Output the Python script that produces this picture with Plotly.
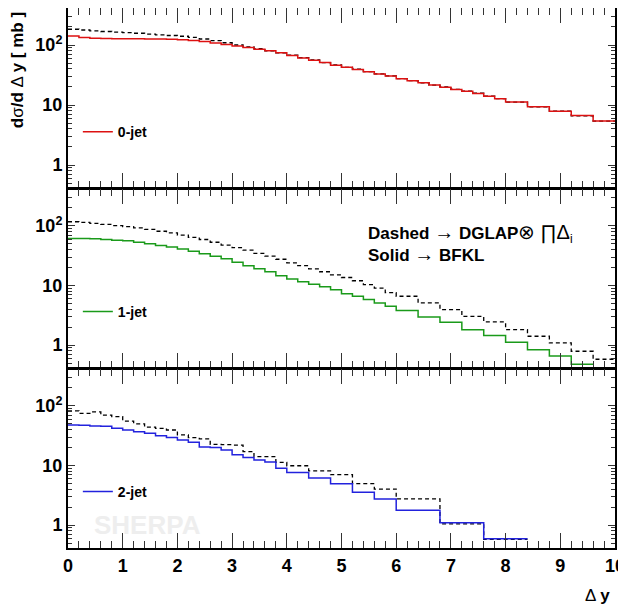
import plotly.graph_objects as go

# ---------------- data ----------------
# bin edges
edges_p1 = [round(0.2 * i, 1) for i in range(41)] + [8.4, 8.8, 9.2, 9.6, 10.0]
edges_p2 = [round(0.2 * i, 1) for i in range(31)] + [6.4, 6.8, 7.2, 7.6, 8.0, 8.4, 8.8, 9.2, 9.6, 10.0]
edges_p2_bfkl = edges_p2[:-1]
edges_p3 = [round(0.2 * i, 1) for i in range(21)] + [4.4, 4.8, 5.2, 5.6, 6.0, 6.8, 7.6, 8.4]

# 0-jet
jet0_bfkl = [141, 134, 130, 128, 127, 127, 127, 126, 126, 125,
             123, 119, 114, 108, 102, 96, 91, 85, 80, 74,
             67, 61, 56, 51, 46, 42.5, 39, 36, 33, 30.4,
             27.5, 25.4, 23.5, 21.5, 19.7, 18.2, 16.9, 15.5, 14.0, 12.7,
             11.2, 9.4, 7.9, 6.7, 5.4]
jet0_dglap = [183, 178, 172, 168, 164, 161, 157, 152, 148, 144,
              140, 134, 126, 118, 109, 100, 93, 87, 80, 74,
              68, 61.5, 56.5, 51, 46.5, 42.5, 39.5, 36, 33, 30.5,
              27.5, 25.5, 23.5, 21.5, 20, 18.2, 17, 15.7, 14, 12.8,
              11.2, 9.3, 7.9, 6.6, 5.4]

# 1-jet
jet1_bfkl = [61.5, 61, 60.5, 59, 57.5, 56, 53, 50, 47, 44,
             41, 37.5, 34, 31, 28, 24.5, 21.5, 19, 17, 14.5,
             12.8, 11.6, 10.5, 9.5, 8.5, 7.3, 6.6, 5.8, 5.1, 4.5,
             3.8, 2.97, 2.42, 1.82, 1.45, 1.12, 0.84, 0.66, 0.48]
jet1_dglap = [117, 114, 110, 106, 101, 97, 92, 87, 81, 76,
              70, 64, 59, 53, 47.5, 43, 39, 34.5, 31, 27.5,
              24, 21.5, 19, 17, 15.1, 13.6, 12.0, 10.3, 9.0, 7.6,
              6.6, 5.1, 3.93, 3.04, 2.45, 1.82, 1.41, 1.09, 0.79, 0.58]

# 2-jet
jet2_bfkl = [47.7, 47.2, 46, 45.5, 42, 39.3, 36.9, 34.6, 31.6, 29.3,
             26.8, 24.5, 20.5, 20, 18.2, 15.1, 13.6, 12.4, 11.4, 9.0,
             7.6, 6.15, 4.95, 3.55, 2.75, 1.78, 1.1, 0.59]
jet2_dglap = [82, 74.6, 79, 70, 66, 55.5, 50, 44, 41.9, 39.3,
              32.5, 29.3, 28, 22.5, 22.3, 22, 17.1, 14.1, 14.1, 11.3,
              9.9, 8.15, 7.0, 4.95, 4.03, 2.75, 1.05, 0.58]

labels = ["0-jet", "1-jet", "2-jet"]
colors = ["#dd1111", "#1a9a1a", "#2222dd"]

x_ticks = list(range(11))
y_tickvals = [1, 10, 100]
y_ticktext = ["1", "10", "10<sup>2</sup>"]
y_minor = [0.5, 0.6, 0.7, 0.8, 0.9, 2, 3, 4, 5, 6, 7, 8, 9,
           20, 30, 40, 50, 60, 70, 80, 90, 200, 300, 400]

FONT = "Liberation Sans"


def step(edges, vals):
    return list(edges), list(vals) + [vals[-1]]


fig = go.Figure()

panels = [
    (edges_p1, jet0_dglap, edges_p1, jet0_bfkl),
    (edges_p2, jet1_dglap, edges_p2_bfkl, jet1_bfkl),
    (edges_p3, jet2_dglap, edges_p3, jet2_bfkl),
]

for i, (ed_d, vd, ed_b, vb) in enumerate(panels):
    sfx = "" if i == 0 else str(i + 1)
    xd, yd = step(ed_d, vd)
    xb, yb = step(ed_b, vb)
    fig.add_trace(go.Scatter(
        x=xd, y=yd, mode="lines", line=dict(shape="hv", color="black", width=1.3, dash="4px,3px"),
        showlegend=False, xaxis="x" + sfx, yaxis="y" + sfx, hoverinfo="skip"))
    fig.add_trace(go.Scatter(
        x=xb, y=yb, mode="lines", line=dict(shape="hv", color=colors[i], width=1.5),
        name="<b>" + labels[i] + "</b>", showlegend=True, legend="legend" + sfx,
        xaxis="x" + sfx, yaxis="y" + sfx))

# panels share their borders: shift lower panels by one line width so lines coincide
gap = 1.0 / 540
domains = [[2 / 3, 1.0], [1 / 3, 2 / 3 - gap], [0.0, 1 / 3 - gap]]
# the page body adds an 8px offset, so the figure is sized 8px smaller on each side
layout = dict(
    width=618, height=598,
    margin=dict(l=60, r=11, t=0, b=58, autoexpand=False),
    paper_bgcolor="white", plot_bgcolor="white",
    font=dict(family=FONT, color="black"),
)
legend_y = [0.770, 0.437, 0.104]
for i in range(3):
    sfx = "" if i == 0 else str(i + 1)
    layout["xaxis" + sfx] = dict(
        domain=[0, 1], anchor="y" + sfx, range=[0, 10], automargin=False,
        tickvals=x_ticks, ticks="inside", ticklen=15, tickwidth=1, tickcolor="#333",
        minor=dict(dtick=0.2, tick0=0, ticks="inside", ticklen=7, tickwidth=1, tickcolor="#333"),
        showline=True, linewidth=2, linecolor="black", mirror="ticks",
        showgrid=False, zeroline=False,
        showticklabels=(i == 2),
        tickfont=dict(family=FONT, size=18, weight="bold"),
    )
    layout["yaxis" + sfx] = dict(
        domain=domains[i], anchor="x" + sfx, type="log", range=[-0.383, 2.617],
        automargin=False,
        tickmode="array", tickvals=y_tickvals, ticktext=y_ticktext,
        ticks="inside", ticklen=7, tickwidth=1, tickcolor="#333",
        minor=dict(tickmode="array", tickvals=y_minor, ticks="inside", ticklen=4,
                   tickwidth=1, tickcolor="#333"),
        showline=True, linewidth=2, linecolor="black", mirror="ticks",
        showgrid=False, zeroline=False,
        tickfont=dict(family=FONT, size=18, weight="bold"),
    )
    layout["legend" + sfx] = dict(
        x=0.018, y=legend_y[i], xanchor="left", yanchor="middle",
        bgcolor="rgba(0,0,0,0)", font=dict(family=FONT, size=14, color="black"),
        itemwidth=30,
    )

fig.update_layout(**layout)

arrow = "<span style='font-size:20px'>→</span>"
annotations = [
    dict(text="<b>d</b>σ<b>/d</b> Δ <b>y [ mb ]</b>", xref="paper", yref="paper",
         x=-0.093, y=0.885, textangle=-90, showarrow=False,
         font=dict(family=FONT, size=17), xanchor="center", yanchor="middle"),
    dict(text="Δ <b>y</b>", xref="paper", yref="paper", x=0.995, y=-0.088,
         showarrow=False, font=dict(family=FONT, size=17), xanchor="right", yanchor="middle"),
    dict(text="<b>Dashed</b> " + arrow + " <b>DGLAP</b><span style='font-size:20px'>⊗</span> "
              "<span style='font-size:20px'>∏Δ</span><sub>i</sub>",
         xref="x2", yref="y2",
         x=5.45, y=1.867, showarrow=False, xanchor="left", yanchor="middle",
         font=dict(family=FONT, size=17)),
    dict(text="<b>Solid</b> " + arrow + " <b>BFKL</b>", xref="x2", yref="y2",
         x=5.45, y=1.533, showarrow=False, xanchor="left", yanchor="middle",
         font=dict(family=FONT, size=17)),
    dict(text="<b>SHERPA</b>", xref="x3", yref="y3", x=1.45, y=0.0,
         showarrow=False, xanchor="center", yanchor="middle",
         font=dict(family=FONT, size=26, color="#eeeeee")),
]
fig.update_layout(annotations=annotations)

fig.write_html("out.html")
